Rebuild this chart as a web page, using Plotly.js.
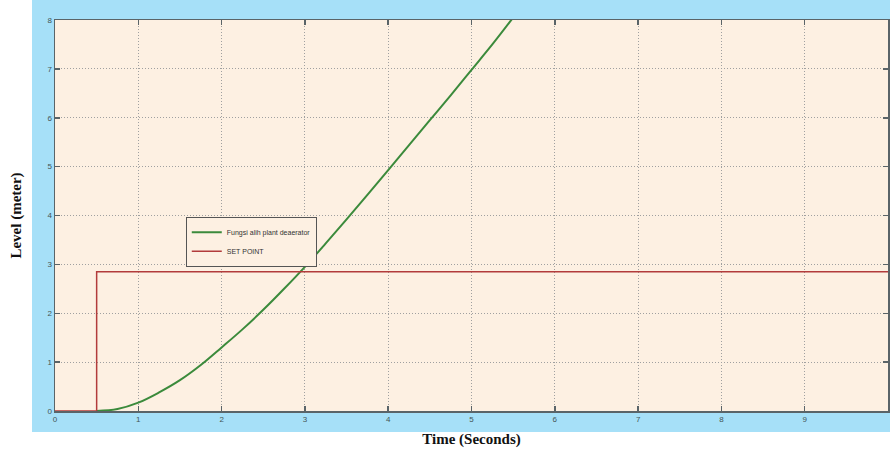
<!DOCTYPE html>
<html>
<head>
<meta charset="utf-8">
<script src="https://cdn.plot.ly/plotly-3.0.1.min.js"></script>
<style>html,body{margin:0;padding:0;background:#fff;}#chart{width:890px;height:454px;}</style>
</head>
<body>
<div id="chart"></div>
<script>
const timeX = [0.5, 0.75, 1.0, 1.25, 1.5, 1.75, 2.0, 2.25, 2.5, 2.75, 3.0, 3.25, 3.5, 3.75, 4.0, 4.25, 4.5, 4.75, 5.0, 5.25, 5.5];
const levelY = [0, 0.04, 0.17, 0.38, 0.63, 0.94, 1.3, 1.67, 2.07, 2.5, 2.95, 3.43, 3.92, 4.42, 4.93, 5.44, 5.95, 6.46, 6.98, 7.5, 8.05];
const setX = [0, 0.5, 0.5, 10];
const setY = [0, 0, 2.85, 2.85];
const xTicks = [0,1,2,3,4,5,6,7,8,9,10];
const yTicks = [0,1,2,3,4,5,6,7,8];

const traces = [
  {x: timeX, y: levelY, type: 'scatter', mode: 'lines', name: 'Fungsi alih plant deaerator',
   line: {color: '#3b8a3b', width: 2, shape: 'spline'}},
  {x: setX, y: setY, type: 'scatter', mode: 'lines', name: 'SET POINT',
   line: {color: '#b23b3b', width: 1.5}}
];

const axisCommon = {
  showline: true, linecolor: '#5a6468', linewidth: 1.5, mirror: 'ticks',
  ticks: 'inside', ticklen: 5, tickcolor: '#5a6468', tickwidth: 1.5,
  showgrid: true, gridcolor: '#a0a0a0', griddash: '1px,2px', gridwidth: 1,
  zeroline: false, tickfont: {family: 'Liberation Sans, Arial', size: 8, color: '#455'}
};

const layout = {
  width: 890, height: 454,
  margin: {l: 55, r: 2, t: 20, b: 43},
  paper_bgcolor: '#ffffff',
  plot_bgcolor: 'rgba(0,0,0,0)',
  showlegend: true,
  legend: {x: 0.157, y: 0.497, xanchor: 'left', yanchor: 'top',
    bgcolor: '#fdf0e2', bordercolor: '#555', borderwidth: 1,
    font: {family: 'Liberation Sans Narrow, Arial Narrow, Liberation Sans', size: 7, color: '#333'},
    itemwidth: 30, tracegroupgap: 0},
  xaxis: Object.assign({}, axisCommon, {range: [0, 10], tickvals: xTicks,
    title: {text: '<b>Time (Seconds)</b>', font: {family: 'Liberation Serif, Times New Roman', size: 15, color: '#111'}, standoff: 10}}),
  yaxis: Object.assign({}, axisCommon, {range: [0, 8], tickvals: yTicks,
    title: {text: '<b>Level (meter)</b>', font: {family: 'Liberation Serif, Times New Roman', size: 15, color: '#111'}, standoff: 22}}),
  shapes: [
    {type: 'rect', xref: 'paper', yref: 'paper', x0: -0.0276, x1: 1.01, y0: -0.0537, y1: 1.06,
     fillcolor: '#a6e0f8', line: {width: 0}, layer: 'below'},
    {type: 'rect', xref: 'paper', yref: 'paper', x0: 0, x1: 1, y0: 0, y1: 1,
     fillcolor: '#fdf0e2', line: {width: 0}, layer: 'below'}
  ]
};

Plotly.newPlot('chart', traces, layout, {displayModeBar: false, staticPlot: true});
</script>
</body>
</html>
